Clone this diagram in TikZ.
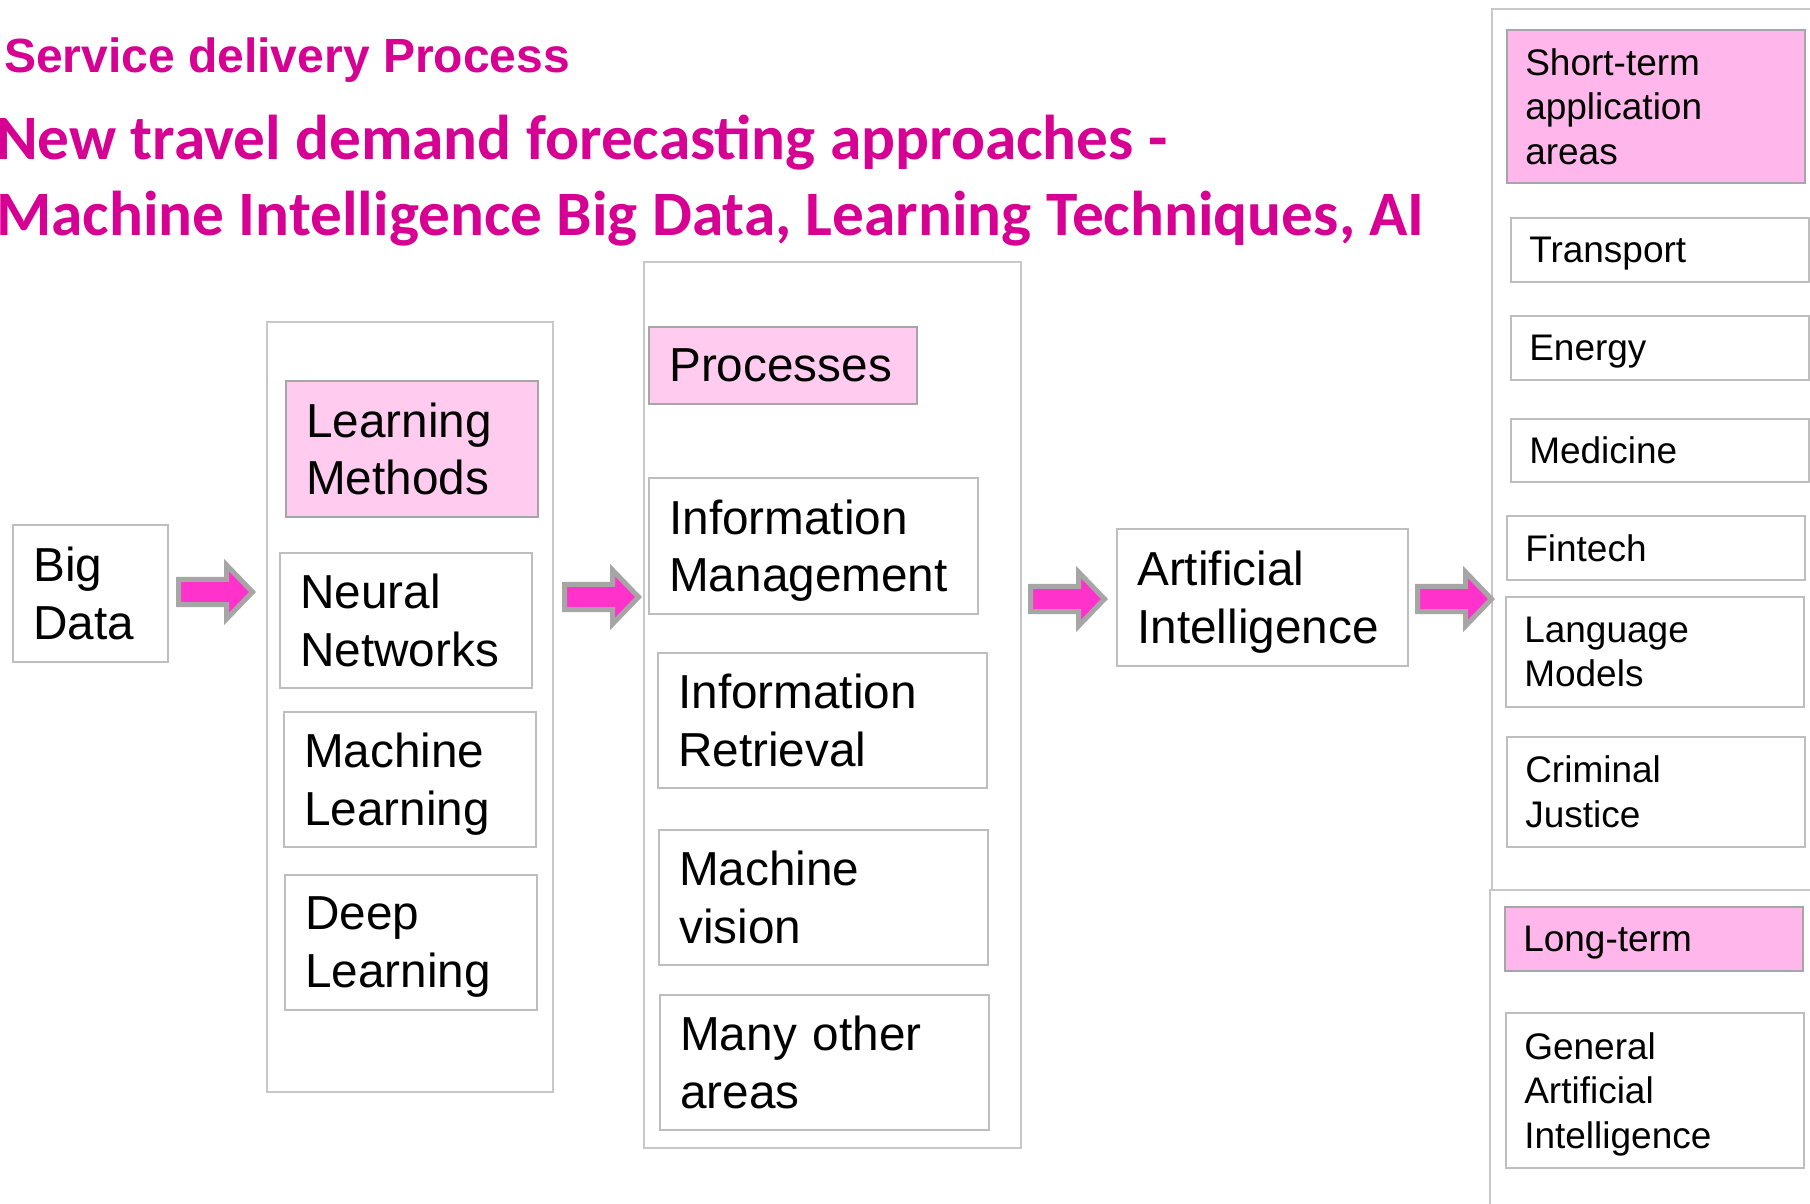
\documentclass[tikz,border=0pt]{standalone}
\usepackage{fontspec}
\setmainfont{Liberation Sans}
\newfontfamily\headfont{Carlito}

\definecolor{headpink}{RGB}{214,0,147}
\definecolor{arrowpink}{RGB}{255,51,204}
\definecolor{arrowgrey}{RGB}{166,166,166}
\definecolor{lightpink}{RGB}{255,204,240}
\definecolor{tabpink}{RGB}{255,182,234}
\definecolor{boxgrey}{RGB}{190,190,190}
\definecolor{framegrey}{RGB}{200,200,200}

% the last line's descenders are left out when a box text is centred
\newcommand\dropdepth{\par\kern-\prevdepth}

\tikzset{
  blockarrow/.pic={
    \draw[arrowgrey,fill=arrowpink,line width=5pt,line join=miter]
      (2.5,-12.6) -- (50.5,-12.6) -- (50.5,-27) -- (76.5,0) -- (50.5,27)
      -- (50.5,12.6) -- (2.5,12.6) -- cycle;
  }
}

\begin{document}
\begin{tikzpicture}[x=1pt,y=-1pt,
    frame/.style={draw=framegrey,line width=1.5pt,anchor=north west,inner sep=0pt},
    box/.style={draw=boxgrey,line width=1.5pt,fill=white,anchor=north west,align=left,
                inner xsep=20.5pt,inner ysep=0pt,execute at end node=\dropdepth,
                font=\fontsize{47.7}{57.5}\selectfont},
    head box/.style={fill=lightpink,draw=arrowgrey},
    learn box/.style={box,text width=211pt,minimum height=#1},
    proc box/.style={box,text width=288pt,minimum height=#1},
    area box/.style={box,inner xsep=18.5pt,text width=261pt,minimum height=#1,
                     font=\fontsize{37}{44.5}\selectfont},
    title/.style={anchor=base west,inner sep=0pt,text=headpink}]

  \useasboundingbox (0,0) rectangle (1810,1203);
  \fill[white] (0,0) rectangle (1810,1203);

  % headings
  \node[title,font=\bfseries\fontsize{48}{48}\selectfont] (service) at (4,72) {Service delivery Process};
  \node[title,font=\headfont\bfseries\fontsize{63.3}{63.3}\selectfont] (forecast) at (-4,159)
    {New travel demand forecasting approaches -};
  \node[title,font=\headfont\bfseries\fontsize{63.3}{63.3}\selectfont] (machine) at (-4,235)
    {Machine Intelligence Big Data, Learning Techniques, AI};

  % column frames
  \node[frame,minimum width=286pt,minimum height=770pt] (learnframe) at (266,321) {};
  \node[frame,minimum width=377pt,minimum height=886pt] (procframe) at (643,261) {};
  \node[frame,minimum width=340pt,minimum height=881pt] (shortframe) at (1491,8) {};
  \node[frame,minimum width=340pt,minimum height=340pt] (longframe) at (1489,889) {};

  \node[box,text width=114pt,minimum height=137pt] (bigdata) at (12,524) {Big\\Data};

  \node[learn box=136pt,head box] (methods) at (285,380) {Learning\\Methods};
  \node[learn box=135pt] (neural) at (279,552) {Neural\\Networks};
  \node[learn box=135pt] (ml) at (283,711) {Machine\\Learning};
  \node[learn box=135pt] (deep) at (284,874) {Deep\\Learning};

  \node[box,head box,text width=227pt,minimum height=77pt] (processes) at (648,326) {Processes};
  \node[proc box=136pt] (infoman) at (648,477) {Information\\Management};
  \node[proc box=135pt] (inforet) at (657,652) {Information\\Retrieval};
  \node[proc box=135pt] (vision) at (658,829) {Machine\\vision};
  \node[proc box=135pt] (other) at (659,994) {Many other\\areas};

  \node[box,text width=250pt,minimum height=137pt] (ai) at (1116,528) {Artificial\\Intelligence};

  \node[area box=153pt,fill=tabpink,draw=arrowgrey] (shortterm) at (1506,29) {Short-term\\application\\areas};
  \node[area box=64pt] (transport) at (1510,217) {Transport};
  \node[area box=64pt] (energy) at (1510,315) {Energy};
  \node[area box=63pt] (medicine) at (1510,418) {Medicine};
  \node[area box=64pt] (fintech) at (1506,515) {Fintech};
  \node[area box=110pt] (language) at (1505,596) {Language\\Models};
  \node[area box=110pt] (justice) at (1506,736) {Criminal\\Justice};
  \node[area box=64pt,fill=tabpink,draw=arrowgrey] (longterm) at (1504,906) {Long-term};
  \node[area box=155pt] (agi) at (1505,1012) {General\\Artificial\\Intelligence};

  % flow arrows
  \pic at (176,592) {blockarrow};
  \pic at (562,597) {blockarrow};
  \pic at (1028,599) {blockarrow};
  \pic at (1415,599) {blockarrow};
\end{tikzpicture}
\end{document}
